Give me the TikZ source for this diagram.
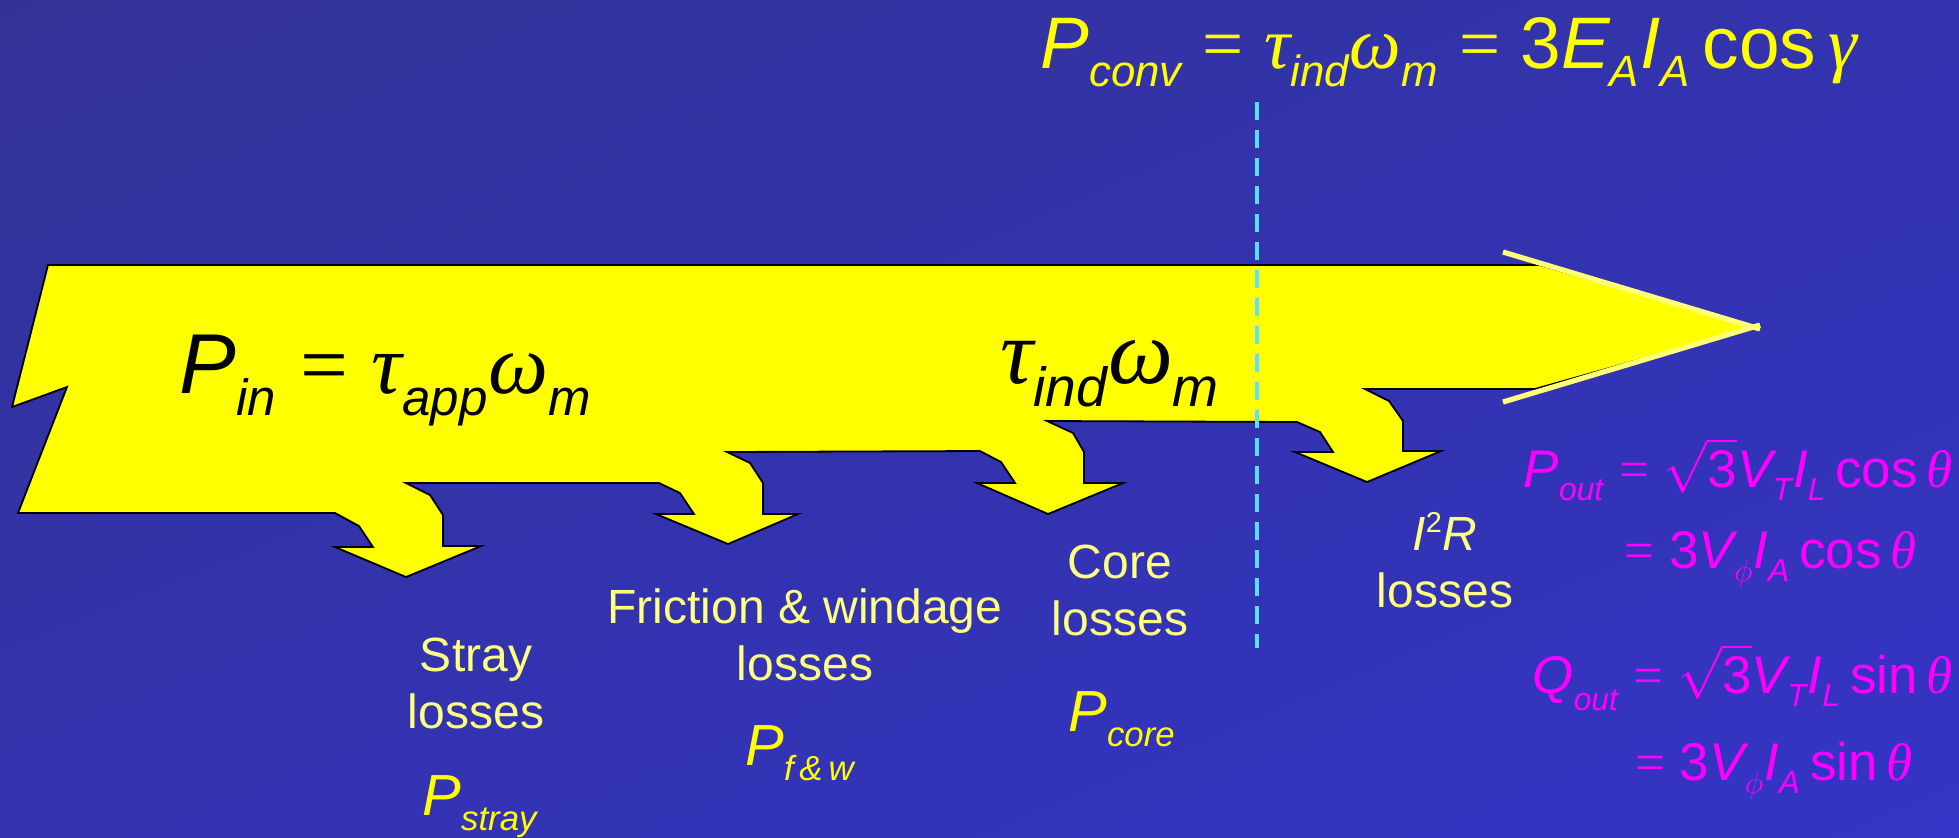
\RequirePackage{fix-cm}
\documentclass[tikz,border=0pt]{standalone}
\usepackage{amsmath}
\usepackage{graphicx}
\usepackage{fontspec}
\setmainfont{Liberation Sans}
\newfontfamily\serifsym{Liberation Serif}
\usetikzlibrary{positioning,shadings}

\definecolor{bgdark}{RGB}{50,50,150}
\definecolor{bgmid}{RGB}{51,51,175}
\definecolor{bglight}{RGB}{52,52,198}
\definecolor{flowyellow}{RGB}{255,255,0}
\definecolor{paleyellow}{RGB}{255,255,130}
\definecolor{tipyellow}{RGB}{255,255,120}
\definecolor{dashcyan}{RGB}{90,225,255}
\definecolor{outmagenta}{RGB}{255,0,255}

\renewcommand{\defaultscriptratio}{.6}
\newcommand{\vit}[1]{\textit{#1}}
\newcommand{\vup}[1]{\text{#1}}
\newcommand{\gr}[1]{\text{\serifsym\itshape #1}}
\newcommand{\lsub}[1]{_{\raisebox{-0.11em}{$\scriptstyle #1$}}}
\newcommand{\eqs}{\mathrel{\text{\serifsym =}}}

\begin{document}
\begin{tikzpicture}[x=0.5pt, y=-0.5pt,
  losslabel/.style={text=paleyellow, align=center, anchor=base, inner sep=0pt,
    font=\fontsize{24}{28.5}\selectfont},
  losssym/.style={text=flowyellow, anchor=base, inner sep=0pt,
    font=\fontsize{29}{34}\selectfont},
  powereq/.style={text=outmagenta, anchor=base east, inner sep=0pt,
    font=\fontsize{26.5}{32}\selectfont}]

\useasboundingbox (0,0) rectangle (1959,837);
\shade[upper left=bgdark, upper right=bgmid, lower left=bgmid, lower right=bglight]
  (0,0) rectangle (1959,837);

\draw[fill=flowyellow, line width=0.9pt, line join=miter]
  (48,265) -- (1540,265) -- (1755,327) -- (1535,389) -- (1365,389)
  -- (1389,401) -- (1403,421) -- (1403,451) -- (1441,451) -- (1367,482)
  -- (1295,452) -- (1333,452) -- (1320,432) -- (1297,422) -- (1047,421)
  -- (1073,433) -- (1084,452) -- (1084,483) -- (1123,483) -- (1048,514)
  -- (977,483) -- (1015,483) -- (1001,462) -- (980,451) -- (727,452)
  -- (750,463) -- (763,483) -- (763,514) -- (798,514) -- (728,544)
  -- (656,514) -- (694,514) -- (680,493) -- (659,483) -- (406,483)
  -- (430,495) -- (443,515) -- (443,546) -- (481,546) -- (406,577)
  -- (335,547) -- (373,547) -- (359,526) -- (335,513) -- (18,513)
  -- (67,387) -- (12,407) -- cycle;
\draw[tipyellow, line width=2.6pt] (1503,252) -- (1760,329);
\draw[tipyellow, line width=2.6pt] (1503,402) -- (1760,325);

\coordinate (dtop) at (1257,102);
\coordinate (dbot) at (1257,648);
\draw[dashcyan, line width=2pt, dash pattern=on 9pt off 5pt] (dtop) -- (dbot);

\node[anchor=base west, inner sep=0pt, font=\fontsize{42.5}{50}\selectfont] (pin) at (179,393)
  {$\vit{P}\lsub{\vit{in}} \eqs \gr{τ}\lsub{\vit{app}}\gr{ω}\lsub{\vit{m}}$};
\node[anchor=base west, inner sep=0pt, font=\fontsize{46}{54}\selectfont] (tind) at (1000,383)
  {$\gr{τ}\lsub{\vit{ind}}\gr{ω}\lsub{\vit{m}}$};
\node[anchor=base west, inner sep=0pt, text=flowyellow, font=\fontsize{36.5}{42}\selectfont] (pconv) at (1040,68)
  {$\vit{P}\lsub{\vit{conv}} \eqs \gr{τ}\lsub{\vit{ind}}\gr{ω}\lsub{\vit{m}} \eqs \vup{3}\vit{E}\lsub{\vit{A}}\vit{I}\lsub{\vit{A}}\,\vup{cos}\,\gr{γ}$};

\node[losslabel] (stray) at (476,728) {Stray\\losses};
\node[losssym] (pstray) at (480,815) {$\vit{P}\lsub{\vit{stray}}$};
\node[losslabel] (fw) at (805,680) {Friction \& windage\\losses};
\node[losssym] (pfw) at (800,765) {$\vit{P}\lsub{\vit{f\,\&\,w}}$};
\node[losslabel] (core) at (1120,635) {Core\\losses};
\node[losssym] (pcore) at (1122,731) {$\vit{P}\lsub{\vit{core}}$};
\node[losslabel] (cu) at (1445,607)
  {\vit{I}\textsuperscript{2}\vit{R}\\losses};

\node[powereq] (poutA) at (1953,487)
  {$\vit{P}\lsub{\vit{out}} \eqs \sqrt{\vup{3}}\vit{V}\lsub{\vit{T}}\vit{I}\lsub{\vit{L}}\,\vup{cos}\,\gr{θ}$};
\node[powereq] (poutB) at (1917,568)
  {$\eqs \vup{3}\vit{V}\lsub{\phi}\vit{I}\lsub{\vit{A}}\,\vup{cos}\,\gr{θ}$};
\node[powereq] (qoutA) at (1953,693)
  {$\vit{Q}\lsub{\vit{out}} \eqs \sqrt{\vup{3}}\vit{V}\lsub{\vit{T}}\vit{I}\lsub{\vit{L}}\,\vup{sin}\,\gr{θ}$};
\node[powereq] (qoutB) at (1913,780)
  {$\eqs \vup{3}\vit{V}\lsub{\phi}\vit{I}\lsub{\vit{A}}\,\vup{sin}\,\gr{θ}$};
\end{tikzpicture}
\end{document}
